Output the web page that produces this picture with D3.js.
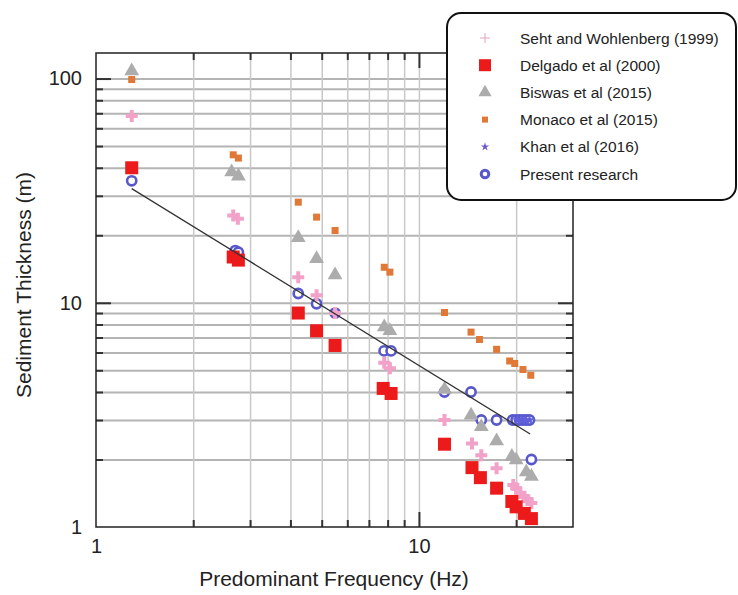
<!DOCTYPE html>
<html>
<head>
<meta charset="utf-8">
<script src="https://cdn.jsdelivr.net/npm/d3@7"></script>
<style>
  body { margin: 0; background: #fff; }
  svg { font-family: "Liberation Sans", Arial, sans-serif; }
</style>
</head>
<body>
<div id="chart"></div>
<script>
// Data variables (frequency Hz, thickness m)
var sehtF = [1.29, 2.66, 2.75, 4.23, 4.82, 5.5, 7.81, 8.13, 12.0, 14.6, 15.6, 17.4, 19.6, 20.0, 20.6, 21.2, 21.7, 22.3];
var sehtT = [68, 24.5, 23.7, 13.0, 10.8, 9.0, 5.4, 5.1, 3.0, 2.36, 2.09, 1.83, 1.54, 1.49, 1.42, 1.36, 1.32, 1.28];

var delgadoF = [1.29, 2.66, 2.76, 4.23, 4.82, 5.5, 7.75, 8.2, 12.0, 14.6, 15.5, 17.4, 19.4, 20.0, 21.2, 22.3];
var delgadoT = [40, 16, 15.5, 9.0, 7.5, 6.45, 4.15, 3.94, 2.34, 1.84, 1.66, 1.49, 1.30, 1.23, 1.15, 1.09];

var biswasF = [1.29, 2.63, 2.76, 4.23, 4.82, 5.5, 7.81, 8.13, 12.0, 14.5, 15.6, 17.4, 19.4, 20.0, 21.5, 22.3];
var biswasT = [108, 38.3, 36.7, 19.5, 15.7, 13.3, 7.8, 7.5, 4.1, 3.15, 2.8, 2.42, 2.06, 1.99, 1.76, 1.68];

var monacoF = [1.29, 2.66, 2.76, 4.23, 4.82, 5.5, 7.81, 8.13, 12.0, 14.5, 15.4, 17.4, 19.1, 19.8, 21.0, 22.2];
var monacoT = [99, 45.7, 44.2, 28.1, 24.1, 21.0, 14.4, 13.7, 9.05, 7.4, 6.86, 6.2, 5.5, 5.36, 5.04, 4.75];

var khanF = [20.2, 20.8, 21.4, 22.0];
var khanT = [3, 3, 3, 3];

var presentF = [1.29, 2.7, 2.76, 4.23, 4.82, 5.5, 7.8, 8.2, 12.0, 14.5, 15.6, 17.4, 19.5, 20.0, 20.5, 21.0, 21.5, 22.0, 22.3];
var presentT = [35, 17.1, 16.8, 11.0, 9.9, 9.0, 6.1, 6.1, 4.0, 4.0, 3.0, 3.0, 3.0, 3.0, 3.0, 3.0, 3.0, 3.0, 2.0];

// fitted trend line end points
var fitF = [1.29, 22.1];
var fitT = [32.3, 2.6];

var legendNames = ["Seht and Wohlenberg (1999)", "Delgado et al (2000)", "Biswas et al (2015)",
  "Monaco et al (2015)", "Khan et al (2016)", "Present research"];

var xMajor = [1, 10];
var yMajor = [1, 10, 100];
var xMinor = [2, 3, 4, 5, 6, 7, 8, 9, 20];
var yMinor = [2, 3, 4, 5, 6, 7, 8, 9, 20, 30, 40, 50, 60, 70, 80, 90];

// Chart variables
var width = 738;
var height = 595;
var plotLeft = 96, plotRight = 573, plotTop = 53, plotBottom = 527;

var pink = "#f2a2c8", red = "#ec1a1a", gray = "#acacac", orange = "#e07838", blue = "#5858cc";

var svg = d3.select("#chart").append("svg")
  .attr("width", width)
  .attr("height", height);

var xScale = d3.scaleLog().domain([1, 30]).range([plotLeft, plotRight]);
var yScale = d3.scaleLog().domain([1, 130]).range([plotBottom, plotTop]);

function zip(fs, ts) {
  return fs.map((f, i) => ({f: f, t: ts[i]}));
}

/* Grid lines */
svg.append("g")
  .attr("transform", `translate(${plotLeft},0)`)
  .call(d3.axisLeft(yScale).tickValues(yMinor.concat([10, 100])).tickSize(-(plotRight - plotLeft)).tickFormat(""))
  .call(g => g.select(".domain").remove())
  .selectAll("line").attr("stroke", "#b4b4b4").attr("stroke-width", 2);

svg.append("g")
  .attr("transform", `translate(0,${plotBottom})`)
  .call(d3.axisBottom(xScale).tickValues(xMinor.concat([10])).tickSize(-(plotBottom - plotTop)).tickFormat(""))
  .call(g => g.select(".domain").remove())
  .selectAll("line").attr("stroke", "#c8c8c8").attr("stroke-width", 1.5);

/* Inner tick marks on all four sides */
function ticks(axis, tr, vals, size) {
  svg.append("g")
    .attr("transform", tr)
    .call(axis.tickValues(vals).tickSize(size).tickFormat(""))
    .call(g => g.select(".domain").remove())
    .selectAll("line").attr("stroke", "#333").attr("stroke-width", 2);
}
ticks(d3.axisLeft(yScale), `translate(${plotLeft},0)`, yMinor, -7);
ticks(d3.axisLeft(yScale), `translate(${plotLeft},0)`, [10, 100], -15);
ticks(d3.axisRight(yScale), `translate(${plotRight},0)`, yMinor, -7);
ticks(d3.axisRight(yScale), `translate(${plotRight},0)`, [10, 100], -15);
ticks(d3.axisBottom(xScale), `translate(0,${plotBottom})`, xMinor, -7);
ticks(d3.axisBottom(xScale), `translate(0,${plotBottom})`, [10], -15);
ticks(d3.axisTop(xScale), `translate(0,${plotTop})`, xMinor, -7);
ticks(d3.axisTop(xScale), `translate(0,${plotTop})`, [10], -15);

/* Frame */
svg.append("rect")
  .attr("x", plotLeft).attr("y", plotTop)
  .attr("width", plotRight - plotLeft).attr("height", plotBottom - plotTop)
  .attr("fill", "none").attr("stroke", "#222").attr("stroke-width", 1.5);

/* Tick labels */
svg.append("g")
  .attr("transform", `translate(${plotLeft},0)`)
  .call(d3.axisLeft(yScale).tickValues(yMajor).tickSize(0).tickPadding(14).tickFormat(d3.format("d")))
  .call(g => g.select(".domain").remove())
  .selectAll("text").attr("font-size", "20px").attr("fill", "#222")
  .attr("font-family", "Liberation Sans, Arial, sans-serif");

svg.append("g")
  .attr("transform", `translate(0,${plotBottom})`)
  .call(d3.axisBottom(xScale).tickValues(xMajor).tickSize(0).tickPadding(12).tickFormat(d3.format("d")))
  .call(g => g.select(".domain").remove())
  .selectAll("text").attr("font-size", "20px").attr("fill", "#222")
  .attr("font-family", "Liberation Sans, Arial, sans-serif");

/* Axis titles */
svg.append("text")
  .attr("x", 334).attr("y", 586)
  .attr("text-anchor", "middle").attr("font-size", "21px").attr("fill", "#222")
  .text("Predominant Frequency (Hz)");

svg.append("text")
  .attr("transform", `translate(31,${(plotTop + plotBottom) / 2 - 5}) rotate(-90)`)
  .attr("text-anchor", "middle").attr("font-size", "21px").attr("fill", "#222")
  .text("Sediment Thickness (m)");

/* Markers */
var plot = svg.append("g");

plot.selectAll("circle.present")
  .data(zip(presentF, presentT)).enter()
  .append("circle")
  .attr("cx", d => xScale(d.f)).attr("cy", d => yScale(d.t))
  .attr("r", 4.6)
  .attr("fill", "#fff").attr("stroke", blue).attr("stroke-width", 2.6);

var cross = d3.symbol().type(d3.symbolCross).size(80);
plot.selectAll("path.seht")
  .data(zip(sehtF, sehtT)).enter()
  .append("path")
  .attr("d", cross)
  .attr("transform", d => `translate(${xScale(d.f)},${yScale(d.t)})`)
  .attr("fill", pink);

plot.selectAll("rect.delgado")
  .data(zip(delgadoF, delgadoT)).enter()
  .append("rect")
  .attr("x", d => xScale(d.f) - 6.5).attr("y", d => yScale(d.t) - 6.5)
  .attr("width", 13).attr("height", 13)
  .attr("fill", red);

var tri = d3.symbol().type(d3.symbolTriangle).size(95);
plot.selectAll("path.biswas")
  .data(zip(biswasF, biswasT)).enter()
  .append("path")
  .attr("d", tri)
  .attr("transform", d => `translate(${xScale(d.f)},${yScale(d.t)})`)
  .attr("fill", gray);

plot.selectAll("rect.monaco")
  .data(zip(monacoF, monacoT)).enter()
  .append("rect")
  .attr("x", d => xScale(d.f) - 3.5).attr("y", d => yScale(d.t) - 3.5)
  .attr("width", 7).attr("height", 7)
  .attr("fill", orange);

var star = d3.symbol().type(d3.symbolStar).size(40);
plot.selectAll("path.khan")
  .data(zip(khanF, khanT)).enter()
  .append("path")
  .attr("d", star)
  .attr("transform", d => `translate(${xScale(d.f)},${yScale(d.t)})`)
  .attr("fill", "#6060dd");

/* Trend line */
var line = d3.line().x(d => xScale(d.f)).y(d => yScale(d.t));
svg.append("path")
  .attr("d", line(zip(fitF, fitT)))
  .attr("fill", "none").attr("stroke", "#333").attr("stroke-width", 1.3);

/* Legend */
var legend = svg.append("g");
legend.append("rect")
  .attr("x", 447).attr("y", 13).attr("width", 289).attr("height", 187)
  .attr("rx", 14).attr("fill", "#fff").attr("stroke", "#111").attr("stroke-width", 2);

var rowY = d3.scaleLinear().domain([0, 5]).range([38, 174]);
var symX = 485;

legendNames.forEach((name, i) => {
  var y = rowY(i);
  legend.append("text")
    .attr("x", 520).attr("y", y).attr("dy", "0.36em")
    .attr("font-size", "15.5px").attr("fill", "#222")
    .text(name);
  var g = legend.append("g").attr("transform", `translate(${symX},${y})`);
  if (i === 0) {
    g.append("path").attr("d", "M-5,0H5M0,-5V5").attr("stroke", "#e4a4b8").attr("stroke-width", 1);
  } else if (i === 1) {
    g.append("rect").attr("x", -6).attr("y", -6).attr("width", 12).attr("height", 12).attr("fill", red);
  } else if (i === 2) {
    g.append("path").attr("d", d3.symbol().type(d3.symbolTriangle).size(75)).attr("fill", gray);
  } else if (i === 3) {
    g.append("rect").attr("x", -3).attr("y", -3).attr("width", 6).attr("height", 6).attr("fill", orange);
  } else if (i === 4) {
    g.append("path").attr("d", d3.symbol().type(d3.symbolStar).size(22)).attr("fill", "#6a5acd");
  } else {
    g.append("circle").attr("r", 3.8).attr("fill", "#fff").attr("stroke", blue).attr("stroke-width", 3);
  }
});
</script>
</body>
</html>
